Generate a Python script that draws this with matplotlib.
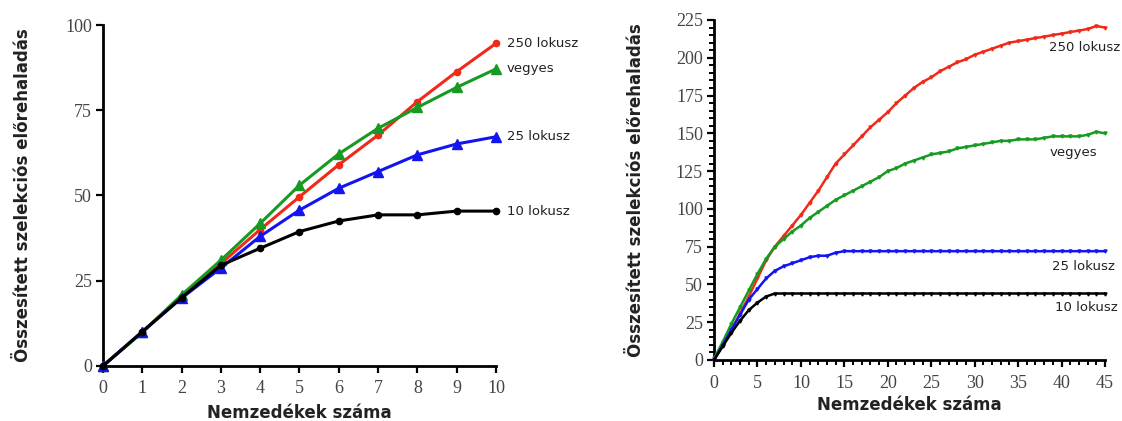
import matplotlib
matplotlib.use("Agg")
import matplotlib.pyplot as plt
from matplotlib.ticker import MultipleLocator

# ---- data: left panel (10 generations) ----
gen_short = [0, 1, 2, 3, 4, 5, 6, 7, 8, 9, 10]
s_250 = [0, 10, 20.5, 30, 40, 49.6, 59, 67.7, 77.5, 86.3, 94.6]
s_mixed = [0, 9.8, 20.8, 31, 41.8, 53, 62.2, 69.7, 75.8, 81.7, 87.1]
s_25 = [0, 10, 19.9, 28.7, 38, 45.7, 52.1, 57, 61.9, 65.1, 67.2]
s_10 = [0, 10, 20, 29.5, 34.5, 39.4, 42.5, 44.3, 44.3, 45.4, 45.4]

# ---- data: right panel (45 generations) ----
gen_long = list(range(46))
l_250 = [0, 10, 20, 31, 42, 54, 66, 75, 82, 89,
         96, 104, 112, 121, 130, 136, 142, 148, 154, 159,
         164, 170, 175, 180, 184, 187, 191, 194, 197, 199,
         202, 204, 206, 208, 210, 211, 212, 213, 214, 215,
         216, 217, 218, 219, 221, 220]
l_mixed = [1, 12, 24, 35, 46, 57, 67, 75, 80, 85,
           89, 94, 98, 102, 106, 109, 112, 115, 118, 121,
           125, 127, 130, 132, 134, 136, 137, 138, 140, 141,
           142, 143, 144, 145, 145, 146, 146, 146, 147, 148,
           148, 148, 148, 149, 151, 150]
l_25 = [0, 10, 20, 30, 40, 47, 54, 59, 62, 64,
        66, 68, 69, 69, 71, 72, 72, 72, 72, 72,
        72, 72, 72, 72, 72, 72, 72, 72, 72, 72,
        72, 72, 72, 72, 72, 72, 72, 72, 72, 72,
        72, 72, 72, 72, 72, 72]
l_10 = [0, 9, 18, 26, 33, 38, 42, 44, 44, 44,
        44, 44, 44, 44, 44, 44, 44, 44, 44, 44,
        44, 44, 44, 44, 44, 44, 44, 44, 44, 44,
        44, 44, 44, 44, 44, 44, 44, 44, 44, 44,
        44, 44, 44, 44, 44, 44]

labels = ["250 lokusz", "vegyes", "25 lokusz", "10 lokusz"]
colors = ["#f02a18", "#169a22", "#1414f0", "#000000"]

xlabel = "Nemzedékek száma"
ylabel = "Összesített szelekciós előrehaladás"

fig = plt.figure(figsize=(11.22, 4.21), dpi=100)
ax1 = fig.add_axes([0.0918, 0.131, 0.3502, 0.8096])
ax2 = fig.add_axes([0.6364, 0.1449, 0.3484, 0.8076])


def style_axes(ax, ylpad, xlpad, xtpad):
    for side in ["top", "right"]:
        ax.spines[side].set_visible(False)
    for side in ["left", "bottom"]:
        ax.spines[side].set_linewidth(2.0)
    ax.tick_params(which="major", direction="out", width=1.6, length=5,
                   labelsize=13, labelcolor="#444444", pad=3)
    ax.tick_params(which="minor", direction="out", width=1.4, length=3.5)
    ax.tick_params(axis="x", which="major", pad=xtpad)
    for lab in ax.get_xticklabels() + ax.get_yticklabels():
        lab.set_family("Liberation Serif")
    ax.set_xlabel(xlabel, fontsize=12, fontweight="bold", color="#222222",
                  labelpad=xlpad)
    ax.set_ylabel(ylabel, fontsize=12, fontweight="bold", color="#222222",
                  labelpad=ylpad)


# ---- left panel ----
series_s = [s_250, s_mixed, s_25, s_10]
markers_s = ["o", "^", "^", "o"]
msize_s = [4.5, 7.5, 6.5, 4.5]
for ys, c, m, ms in zip(series_s, colors, markers_s, msize_s):
    ax1.plot(gen_short, ys, color=c, lw=2.2, marker=m, ms=ms, clip_on=False,
             zorder=3)
ax1.set_xlim(0, 10)
ax1.set_ylim(0, 100)
ax1.xaxis.set_major_locator(MultipleLocator(1))
ax1.yaxis.set_major_locator(MultipleLocator(25))
style_axes(ax1, ylpad=24, xlpad=5, xtpad=5)
for ys, lab in zip(series_s, labels):
    ax1.annotate(lab, (gen_short[-1], ys[-1]), xytext=(8, 0),
                 textcoords="offset points", va="center", ha="left",
                 fontsize=9.5, color="#222222", annotation_clip=False)

# ---- right panel ----
series_l = [l_250, l_mixed, l_25, l_10]
for ys, c in zip(series_l, colors):
    ax2.plot(gen_long, ys, color=c, lw=1.8, marker="v", ms=2.2,
             clip_on=False, zorder=3)
ax2.set_xlim(0, 45)
ax2.set_ylim(0, 225)
ax2.xaxis.set_major_locator(MultipleLocator(5))
ax2.xaxis.set_minor_locator(MultipleLocator(1))
ax2.yaxis.set_major_locator(MultipleLocator(25))
ax2.yaxis.set_minor_locator(MultipleLocator(5))
style_axes(ax2, ylpad=22, xlpad=3, xtpad=6)

label_pos_r = [(38.6, 207), (38.6, 137), (38.9, 62), (39.3, 35)]
for (gx, gy), lab in zip(label_pos_r, labels):
    ax2.text(gx, gy, lab, fontsize=9.5, color="#222222", va="center",
             ha="left", clip_on=False)

fig.savefig("out.png", dpi=100)
